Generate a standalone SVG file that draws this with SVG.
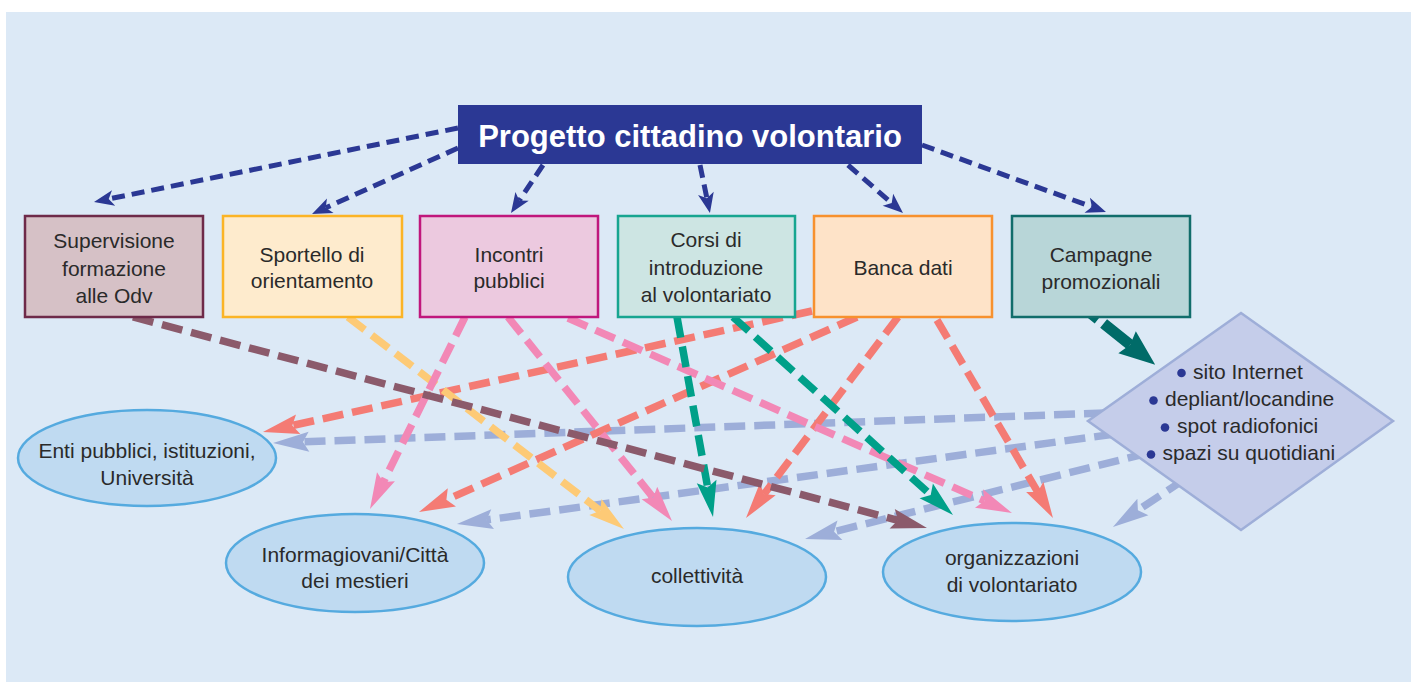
<svg xmlns="http://www.w3.org/2000/svg" width="1415" height="682" viewBox="0 0 1415 682">
<style>
  .t { font-family: "Liberation Sans", Arial, sans-serif; font-size: 21px; fill: #2a2a2a; text-anchor: middle; }
  .ts { font-family: "Liberation Sans", Arial, sans-serif; font-size: 21px; fill: #2a2a2a; }
  .box { stroke-width: 2.5; }
  .ell { fill: #bfdaf1; stroke: #55aadf; stroke-width: 2.5; }
  .c { fill: none; stroke-width: 7.5; stroke-dasharray: 21 9; }
  .b { fill: none; stroke: #2b3894; stroke-width: 5; stroke-dasharray: 13 7; }
</style>
<defs>
  <marker id="ab" markerUnits="userSpaceOnUse" viewBox="-6 -9 23 18" markerWidth="23" markerHeight="18" refX="0" refY="0" orient="auto"><path d="M-5,-8 L15,0 L-5,8 L0,0 Z" fill="#2b3894"/></marker>
  <marker id="am" markerUnits="userSpaceOnUse" viewBox="-7 -11 38 22" markerWidth="38" markerHeight="22" refX="0" refY="0" orient="auto"><path d="M-6,-10 L30,0 L-6,10 L0,0 Z" fill="#8b5a6b"/></marker>
  <marker id="ay" markerUnits="userSpaceOnUse" viewBox="-7 -11 38 22" markerWidth="38" markerHeight="22" refX="0" refY="0" orient="auto"><path d="M-6,-10 L30,0 L-6,10 L0,0 Z" fill="#fdca76"/></marker>
  <marker id="ap" markerUnits="userSpaceOnUse" viewBox="-7 -11 38 22" markerWidth="38" markerHeight="22" refX="0" refY="0" orient="auto"><path d="M-6,-10 L30,0 L-6,10 L0,0 Z" fill="#f288b6"/></marker>
  <marker id="at" markerUnits="userSpaceOnUse" viewBox="-7 -11 38 22" markerWidth="38" markerHeight="22" refX="0" refY="0" orient="auto"><path d="M-6,-10 L30,0 L-6,10 L0,0 Z" fill="#00a089"/></marker>
  <marker id="as" markerUnits="userSpaceOnUse" viewBox="-7 -11 38 22" markerWidth="38" markerHeight="22" refX="0" refY="0" orient="auto"><path d="M-6,-10 L30,0 L-6,10 L0,0 Z" fill="#f47b74"/></marker>
  <marker id="al" markerUnits="userSpaceOnUse" viewBox="-7 -11 38 22" markerWidth="38" markerHeight="22" refX="0" refY="0" orient="auto"><path d="M-6,-10 L30,0 L-6,10 L0,0 Z" fill="#9daed9"/></marker>
  <marker id="ad" markerUnits="userSpaceOnUse" viewBox="-5 -15 38 30" markerWidth="38" markerHeight="30" refX="0" refY="0" orient="auto"><path d="M-4,-14 L32,0 L-4,14 L0,0 Z" fill="#006b68"/></marker>
</defs>
<rect x="0" y="0" width="1415" height="682" fill="#ffffff"/>
<rect x="6" y="12" width="1405" height="670" fill="#dce9f6"/>

<g id="connectors">
  <!-- lavender from campaign diamond -->
  <path class="c" d="M1105,413 L303,441.9" stroke="#9daed9" stroke-width="8" marker-end="url(#al)"/>
  <path class="c" d="M1115,434 L486.7,519.9" stroke="#9daed9" stroke-width="8" marker-end="url(#al)"/>
  <path class="c" d="M1148,453 L834.1,531.7" stroke="#9daed9" stroke-width="8" marker-end="url(#al)"/>
  <path class="c" d="M1185,479 L1137.9,510.3" stroke="#9daed9" stroke-width="8" marker-end="url(#al)"/>
  <!-- salmon from Banca dati -->
  <path class="c" d="M812,311 L292.3,425.5" stroke="#f47b74" marker-end="url(#as)"/>
  <path class="c" d="M857,317 L446.4,499.8" stroke="#f47b74" marker-end="url(#as)"/>
  <path class="c" d="M898,317 L764.1,494.1" stroke="#f47b74" marker-end="url(#as)"/>
  <path class="c" d="M937,320 L1037.8,492.1" stroke="#f47b74" marker-end="url(#as)"/>
  <!-- yellow from Sportello -->
  <path class="c" d="M348,317 L600.2,510.7" stroke="#fdca76" marker-end="url(#ay)"/>
  <!-- pink from Incontri -->
  <path class="c" d="M465,317 L383.3,482.1" stroke="#f288b6" marker-end="url(#ap)"/>
  <path class="c" d="M508,317 L653.2,497.6" stroke="#f288b6" marker-end="url(#ap)"/>
  <path class="c" d="M568,318 L984.5,500.9" stroke="#f288b6" marker-end="url(#ap)"/>
  <!-- teal from Corsi -->
  <path class="c" d="M677,317 L707.7,487.5" stroke="#00a089" marker-end="url(#at)"/>
  <path class="c" d="M733,317 L930.7,494.9" stroke="#00a089" marker-end="url(#at)"/>
  <!-- maroon from Supervisione -->
  <path class="c" d="M133,317 L898,520.3" stroke="#8b5a6b" marker-end="url(#am)"/>
  <!-- dark teal from Campagne -->
  <path d="M1088,311 L1130.2,344.8" fill="none" stroke="#006b68" stroke-width="11" stroke-dasharray="13 7 100" marker-end="url(#ad)"/>
  <!-- blue from title -->
  <path class="b" d="M458,128 L108.7,199" marker-end="url(#ab)"/>
  <path class="b" d="M458,148 L325.7,207.8" marker-end="url(#ab)"/>
  <path class="b" d="M543,165 L519.3,200.5" marker-end="url(#ab)"/>
  <path class="b" d="M700,165 L706.9,198.3" marker-end="url(#ab)"/>
  <path class="b" d="M848,165 L891.7,203.1" marker-end="url(#ab)"/>
  <path class="b" d="M922,145 L1091.9,206.9" marker-end="url(#ab)"/>
</g>

<g id="title">
  <rect x="458" y="105" width="464" height="59" fill="#2b3894"/>
  <text x="690" y="147" font-family="Liberation Sans, Arial, sans-serif" font-size="31" font-weight="bold" fill="#ffffff" text-anchor="middle">Progetto cittadino volontario</text>
</g>

<g id="supervisione">
  <rect class="box" x="25" y="216" width="178" height="101" fill="#d6c1c6" stroke="#6e2a49"/>
  <text class="t" x="114" y="248">Supervisione</text>
  <text class="t" x="114" y="276">formazione</text>
  <text class="t" x="114" y="303">alle Odv</text>
</g>
<g id="sportello">
  <rect class="box" x="223" y="216" width="179" height="101" fill="#feebcd" stroke="#fbb426"/>
  <text class="t" x="312" y="262">Sportello di</text>
  <text class="t" x="312" y="288">orientamento</text>
</g>
<g id="incontri">
  <rect class="box" x="420" y="216" width="178" height="101" fill="#ecc9df" stroke="#c0177c"/>
  <text class="t" x="509" y="262">Incontri</text>
  <text class="t" x="509" y="288">pubblici</text>
</g>
<g id="corsi">
  <rect class="box" x="618" y="216" width="177" height="101" fill="#cde5e3" stroke="#17a590"/>
  <text class="t" x="706" y="247">Corsi di</text>
  <text class="t" x="706" y="275">introduzione</text>
  <text class="t" x="706" y="302">al volontariato</text>
</g>
<g id="banca">
  <rect class="box" x="814" y="216" width="178" height="101" fill="#fee3c8" stroke="#f7912e"/>
  <text class="t" x="903" y="275">Banca dati</text>
</g>
<g id="campagne">
  <rect class="box" x="1012" y="216" width="178" height="101" fill="#b8d6d8" stroke="#116d6b"/>
  <text class="t" x="1101" y="262">Campagne</text>
  <text class="t" x="1101" y="289">promozionali</text>
</g>

<g id="mezzi">
  <polygon points="1241,313 1393,421 1241,530 1088,421" fill="#c5cdea" stroke="#9eaed8" stroke-width="2.5"/>
  <circle cx="1181.5" cy="373" r="4.3" fill="#2b3894"/>
  <text class="ts" x="1193" y="379">sito Internet</text>
  <circle cx="1153.5" cy="400.5" r="4.3" fill="#2b3894"/>
  <text class="ts" x="1165" y="406">depliant/locandine</text>
  <circle cx="1165" cy="427.5" r="4.3" fill="#2b3894"/>
  <text class="ts" x="1177" y="433">spot radiofonici</text>
  <circle cx="1151" cy="454.5" r="4.3" fill="#2b3894"/>
  <text class="ts" x="1162.5" y="460">spazi su quotidiani</text>
</g>

<g id="enti">
  <ellipse class="ell" cx="147" cy="458" rx="129" ry="48"/>
  <text class="t" x="147" y="458">Enti pubblici, istituzioni,</text>
  <text class="t" x="147" y="485">Università</text>
</g>
<g id="informagiovani">
  <ellipse class="ell" cx="355" cy="563" rx="129" ry="49"/>
  <text class="t" x="355" y="562">Informagiovani/Città</text>
  <text class="t" x="355" y="588">dei mestieri</text>
</g>
<g id="collettivita">
  <ellipse class="ell" cx="697" cy="577" rx="129" ry="49"/>
  <text class="t" x="697" y="583">collettività</text>
</g>
<g id="organizzazioni">
  <ellipse class="ell" cx="1012" cy="572" rx="129" ry="49"/>
  <text class="t" x="1012" y="565">organizzazioni</text>
  <text class="t" x="1012" y="592">di volontariato</text>
</g>
</svg>
